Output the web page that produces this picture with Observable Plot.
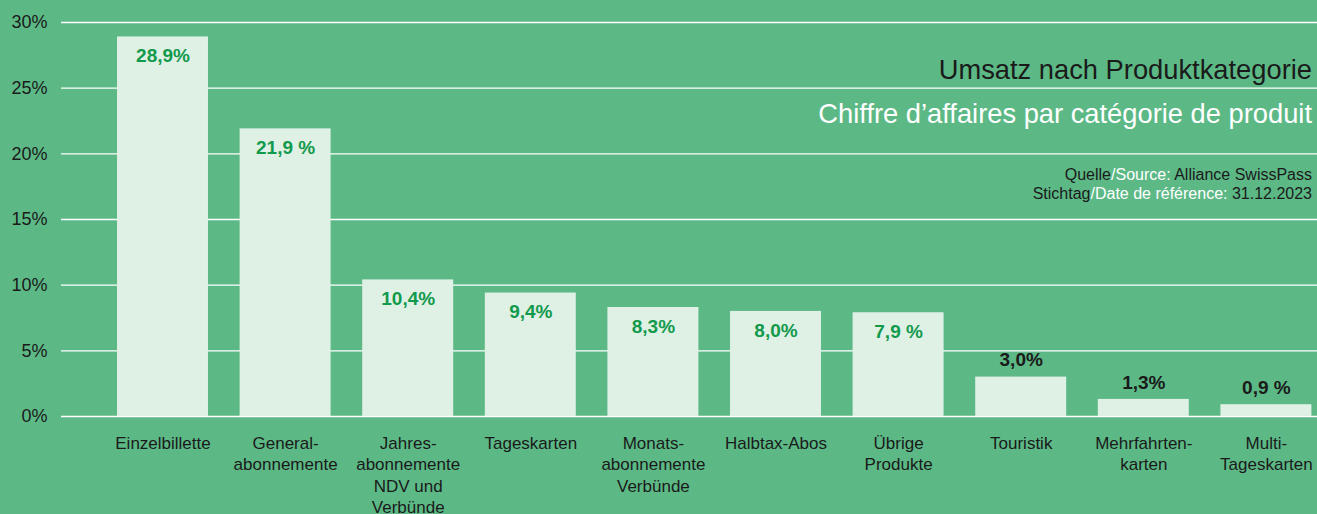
<!DOCTYPE html>
<html>
<head>
<meta charset="utf-8">
<script src="https://cdn.jsdelivr.net/npm/d3@7"></script>
<script src="https://cdn.jsdelivr.net/npm/@observablehq/plot@0.6"></script>
<style>
  html, body { margin: 0; padding: 0; background: #5cb986; }
  #wrap { position: relative; width: 1317px; height: 514px; overflow: hidden; font-family: "Liberation Sans", Arial, sans-serif; }
  .t { position: absolute; right: 5px; white-space: nowrap; line-height: 1; }
  #title { top: 56px; font-size: 27.3px; color: #1a1a1a; }
  #subtitle { top: 100px; font-size: 27.3px; color: #ffffff; }
  #src1 { top: 167px; font-size: 16px; color: #1a1a1a; }
  #src2 { top: 186px; font-size: 16px; color: #1a1a1a; }
  .w { color: #ffffff; }
</style>
</head>
<body>
<div id="wrap">
  <div id="chart"></div>
  <div class="t" id="title">Umsatz nach Produktkategorie</div>
  <div class="t" id="subtitle">Chiffre d’affaires par catégorie de produit</div>
  <div class="t" id="src1">Quelle<span class="w">/Source: </span>Alliance SwissPass</div>
  <div class="t" id="src2">Stichtag<span class="w">/Date de référence: </span>31.12.2023</div>
</div>
<script>
const categories = [
  "Einzelbillette",
  "General-\nabonnemente",
  "Jahres-\nabonnemente\nNDV und\nVerbünde",
  "Tageskarten",
  "Monats-\nabonnemente\nVerbünde",
  "Halbtax-Abos",
  "Übrige\nProdukte",
  "Touristik",
  "Mehrfahrten-\nkarten",
  "Multi-\nTageskarten"
];
const values = [28.9, 21.9, 10.4, 9.4, 8.3, 8.0, 7.9, 3.0, 1.3, 0.9];
const valueLabels = ["28,9%", "21,9 %", "10,4%", "9,4%", "8,3%", "8,0%", "7,9 %", "3,0%", "1,3%", "0,9 %"];
const yTicks = [0, 5, 10, 15, 20, 25, 30];

const data = categories.map((c, i) => ({cat: c, value: values[i], label: valueLabels[i]}));
const inside = data.filter(d => d.value > 5);
const outside = data.filter(d => d.value <= 5);

const chart = Plot.plot({
  width: 1317,
  height: 514,
  marginLeft: 61,
  marginRight: 0,
  marginTop: 22,
  marginBottom: 98,
  style: {background: "transparent", fontFamily: "Liberation Sans, Arial, sans-serif", color: "#1a1a1a"},
  x: {domain: categories, range: [101.2, 1327.2], paddingInner: 0.258, paddingOuter: 0.129, round: false, axis: null},
  y: {domain: [0, 30], range: [416, 22], axis: null},
  marks: [
    Plot.ruleY(yTicks, {stroke: "#ffffff", strokeWidth: 1.3}),
    Plot.barY(data, {x: "cat", y: "value", fill: "#dff0e5"}),
    Plot.axisY(yTicks, {tickSize: 0, tickPadding: 14, fontSize: 18, tickFormat: d => d + "%", fill: "#1a1a1a", label: null}),
    Plot.text(data, {x: "cat", y: 0, text: "cat", lineAnchor: "top", dy: 17, fontSize: 17, lineHeight: 1.26, fill: "#1a1a1a"}),
    Plot.text(inside, {x: "cat", y: "value", text: "label", dy: 19, fontSize: 19, fontWeight: "bold", fill: "#129a4c"}),
    Plot.text(outside, {x: "cat", y: "value", text: "label", dy: -17, fontSize: 19, fontWeight: "bold", fill: "#1a1a1a"})
  ]
});
document.getElementById("chart").appendChild(chart);
</script>
</body>
</html>
